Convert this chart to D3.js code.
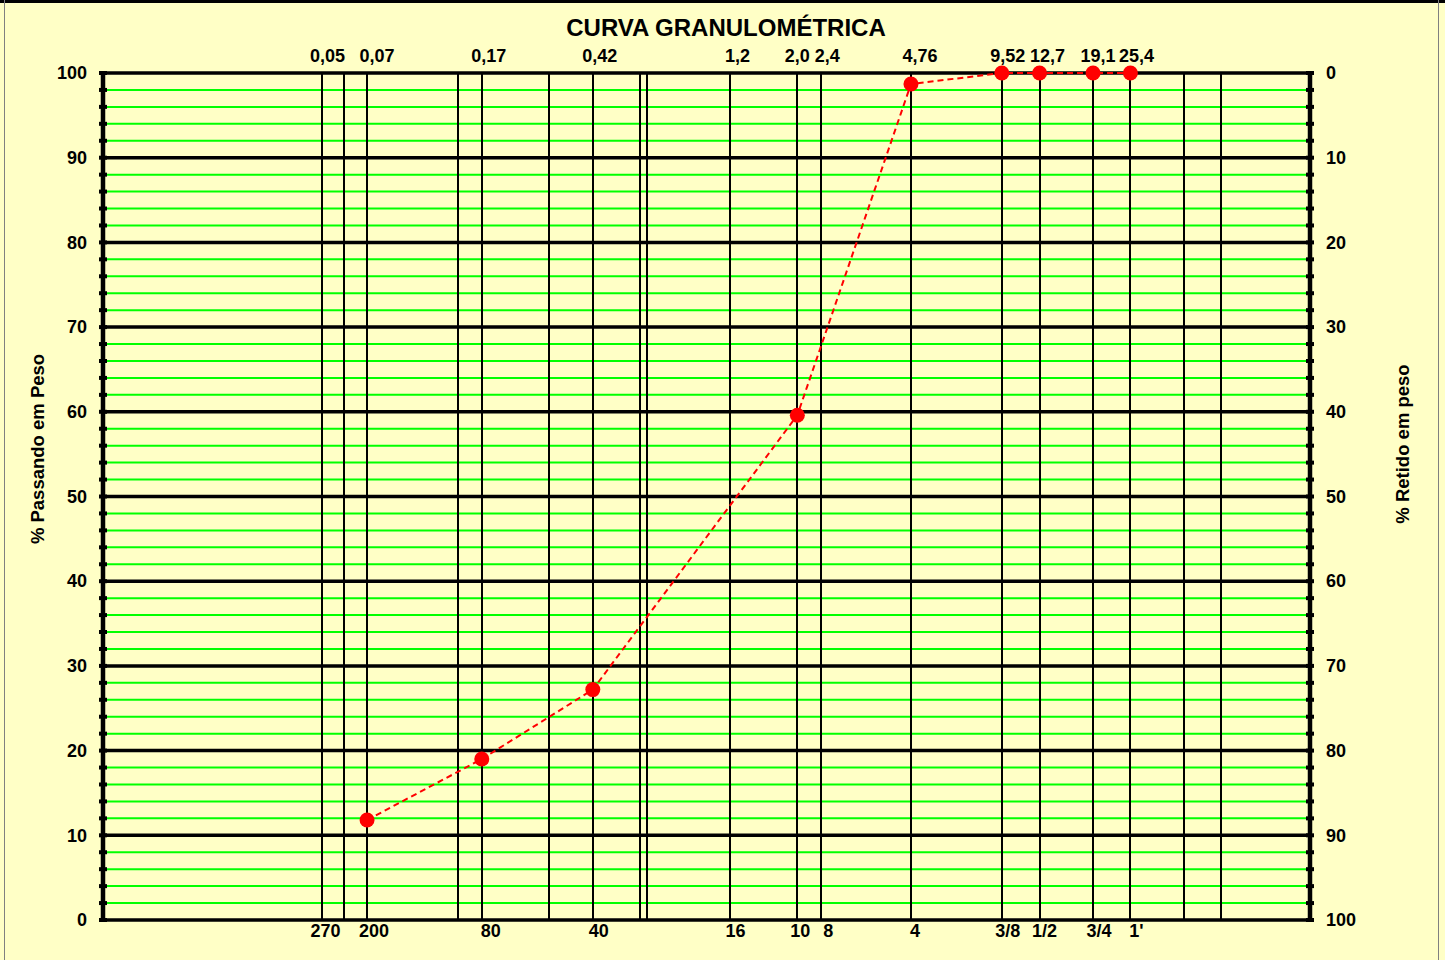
<!DOCTYPE html>
<html>
<head>
<meta charset="utf-8">
<script src="https://cdn.jsdelivr.net/npm/d3@7"></script>
<style>
  html, body { margin: 0; padding: 0; background: #FFFFC6; }
  svg { display: block; }
  text { font-family: Arial, "Liberation Sans", sans-serif; font-weight: bold; fill: #000; }
</style>
</head>
<body>
<svg id="chart" width="1445" height="960"></svg>
<script>
// ---- data ----
const sieveOpenings = [0.075, 0.18, 0.42, 2.0, 4.76, 9.52, 12.7, 19.1, 25.4];
const percentPassing = [11.8, 19.0, 27.2, 59.6, 98.7, 100, 100, 100, 100];

const labelPositions = [0.053, 0.075, 0.18, 0.42, 1.2, 2.0, 2.4, 4.76, 9.52, 12.7, 19.1, 25.4];
const topLabels = ["0,05", "0,07", "0,17", "0,42", "1,2", "2,0", "2,4", "4,76", "9,52", "12,7", "19,1", "25,4"];
const bottomLabels = ["270", "200", "80", "40", "16", "10", "8", "4", "3/8", "1/2", "3/4", "1'"];

const verticalLines = [0.053, 0.063, 0.075, 0.15, 0.18, 0.3, 0.42, 0.6, 0.635, 1.2, 2.0, 2.4, 4.76, 9.52, 12.7, 19.1, 25.4, 38.1, 50.8];

const majorY = [0, 10, 20, 30, 40, 50, 60, 70, 80, 90, 100];
const minorY = [2, 4, 6, 8, 12, 14, 16, 18, 22, 24, 26, 28, 32, 34, 36, 38, 42, 44, 46, 48,
                52, 54, 56, 58, 62, 64, 66, 68, 72, 74, 76, 78, 82, 84, 86, 88, 92, 94, 96, 98];
const rightLabels = ["100", "90", "80", "70", "60", "50", "40", "30", "20", "10", "0"];

const chartTitle = "CURVA GRANULOMÉTRICA";
const leftTitle = "% Passando em Peso";
const rightTitle = "% Retido em peso";

// ---- layout ----
const W = 1445, H = 960;
const L = 103, R = 1310, T = 73, B = 920;
// small horizontal nudges of the top / bottom labels relative to their lines (px)
const topDx = [6, 10, 7, 7, 7, 0, 6, 9, 6, 8, 5, 6];
const bottomDx = [4, 7, 9, 6, 5, 3, 7, 4, 6, 5, 6, 6];

const svg = d3.select("#chart");
const x = d3.scaleLog().domain([0.01, 100]).range([L, R]);
const y = d3.scaleLinear().domain([0, 100]).range([B, T]);

// frame
svg.append("rect").attr("x", 0).attr("y", 0).attr("width", W).attr("height", H).attr("fill", "#FFFFC6");
svg.append("line").attr("x1", 0).attr("x2", W).attr("y1", 1.5).attr("y2", 1.5).attr("stroke", "#000").attr("stroke-width", 3);
svg.append("line").attr("x1", 4.5).attr("x2", 4.5).attr("y1", 0).attr("y2", H).attr("stroke", "#808080").attr("stroke-width", 1);
svg.append("line").attr("x1", 1438.5).attr("x2", 1438.5).attr("y1", 0).attr("y2", H).attr("stroke", "#808080").attr("stroke-width", 1);

// minor green gridlines
svg.append("g").selectAll("line").data(minorY).join("line")
  .attr("x1", L).attr("x2", R)
  .attr("y1", d => y(d)).attr("y2", d => y(d))
  .attr("stroke", "#00FF00").attr("stroke-width", 2);

// vertical lines
svg.append("g").selectAll("line").data(verticalLines).join("line")
  .attr("x1", d => Math.round(x(d))).attr("x2", d => Math.round(x(d)))
  .attr("y1", T).attr("y2", B)
  .attr("stroke", "#000").attr("stroke-width", 2);

// major black gridlines
svg.append("g").selectAll("line").data(majorY).join("line")
  .attr("x1", L).attr("x2", R)
  .attr("y1", d => y(d)).attr("y2", d => y(d))
  .attr("stroke", "#000").attr("stroke-width", 3.5);

// left axis
const leftAxis = d3.axisLeft(y).tickValues(majorY).tickSize(0).tickPadding(16);
const gl = svg.append("g").attr("transform", `translate(${L},0)`).call(leftAxis);
gl.select(".domain").remove();
gl.selectAll("text").style("font-size", "18px").attr("font-family", null);

// right axis (retido)
const rightAxis = d3.axisRight(y).tickValues(majorY).tickSize(0).tickPadding(16)
  .tickFormat((d, i) => rightLabels[i]);
const gr = svg.append("g").attr("transform", `translate(${R},0)`).call(rightAxis);
gr.select(".domain").remove();
gr.selectAll("text").style("font-size", "18px").attr("font-family", null);

// axis lines and tick marks
[L, R].forEach(ax => {
  svg.append("line").attr("x1", ax).attr("x2", ax).attr("y1", T - 2).attr("y2", B + 2)
    .attr("stroke", "#000").attr("stroke-width", 4.5);
  svg.append("g").selectAll("line").data(majorY.concat(minorY)).join("line")
    .attr("x1", ax - 4).attr("x2", ax + 4)
    .attr("y1", d => y(d)).attr("y2", d => y(d))
    .attr("stroke", "#000").attr("stroke-width", 4);
});

// top labels (mm)
svg.append("g").selectAll("text").data(labelPositions).join("text")
  .attr("x", (d, i) => x(d) + topDx[i]).attr("y", 62)
  .attr("text-anchor", "middle").style("font-size", "18px")
  .text((d, i) => topLabels[i]);

// bottom labels (sieve numbers)
svg.append("g").selectAll("text").data(labelPositions).join("text")
  .attr("x", (d, i) => x(d) + bottomDx[i]).attr("y", 937)
  .attr("text-anchor", "middle").style("font-size", "18px")
  .text((d, i) => bottomLabels[i]);

// title
svg.append("text").attr("x", 726).attr("y", 36).attr("text-anchor", "middle")
  .style("font-size", "24px").text(chartTitle);

// axis titles
svg.append("text").attr("transform", "translate(44,449) rotate(-90)").attr("text-anchor", "middle")
  .style("font-size", "18.5px").text(leftTitle);
svg.append("text").attr("transform", "translate(1409,444) rotate(-90)").attr("text-anchor", "middle")
  .style("font-size", "18.5px").text(rightTitle);

// data line
const pts = sieveOpenings.map((d, i) => [d, percentPassing[i]]);
svg.append("path").datum(pts)
  .attr("d", d3.line().x(d => x(d[0])).y(d => y(d[1])))
  .attr("fill", "none").attr("stroke", "#FF0000").attr("stroke-width", 2)
  .attr("stroke-dasharray", "6,4");
svg.append("g").selectAll("circle").data(pts).join("circle")
  .attr("cx", d => x(d[0])).attr("cy", d => y(d[1])).attr("r", 7.5)
  .attr("fill", "#FF0000");
</script>
</body>
</html>
